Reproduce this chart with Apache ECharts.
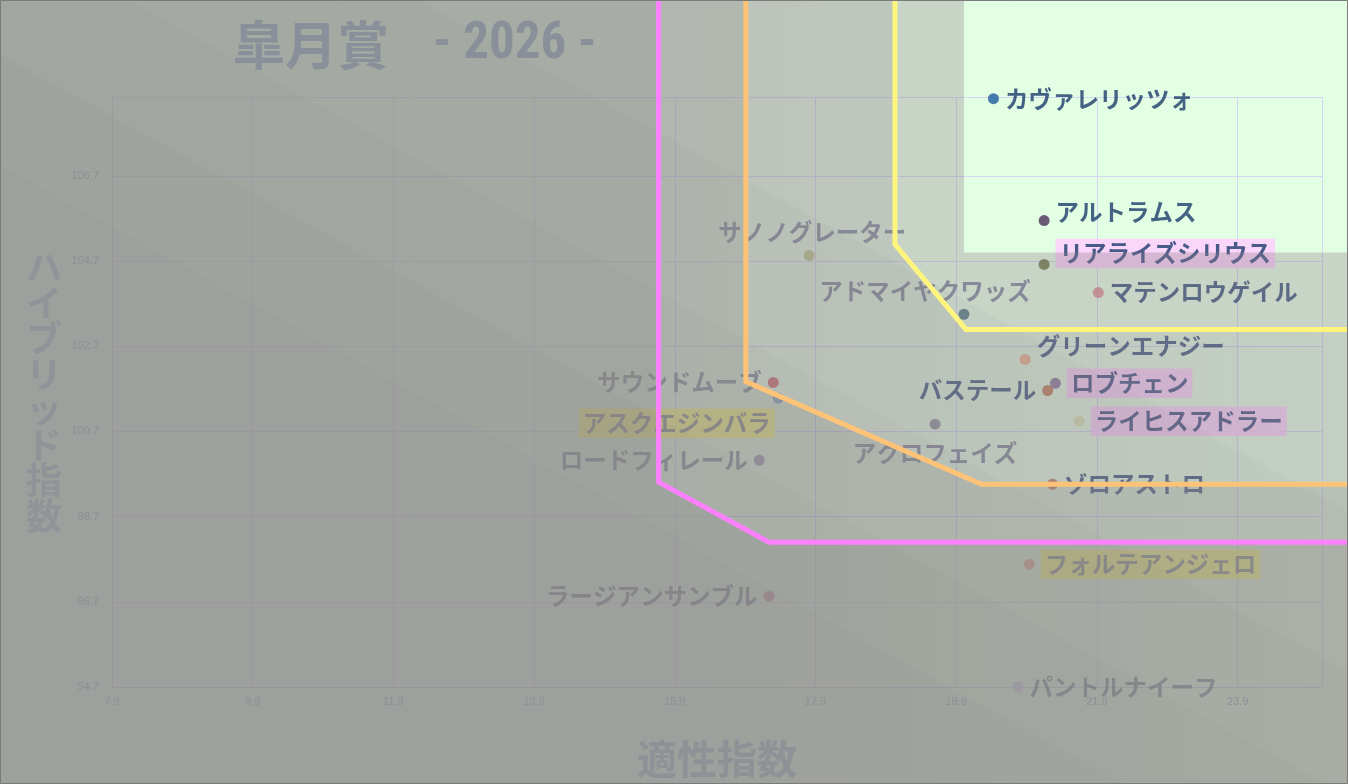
<!DOCTYPE html>
<html><head><meta charset="utf-8">
<script src="https://cdn.jsdelivr.net/npm/echarts@6/dist/echarts.min.js"></script>
<style>html,body{margin:0;padding:0;background:#fff}#c{width:1348px;height:784px}</style>
</head><body><div id="c"></div>
<script>
// ---- data ----
const titleMain = '皐月賞';
const titleYear = '- 2026 -';
const xAxisName = '適性指数';
const yAxisName = 'ハイブリッド指数';
const xTickValues = [7.9, 9.9, 11.9, 13.9, 15.9, 17.9, 19.9, 21.9, 23.9];
const yTickValues = [94.7, 96.7, 98.7, 100.7, 102.7, 104.7, 106.7];
const xMax = 25.1;
const yMax = 108.55;

const horseNames = ['カヴァレリッツォ','アルトラムス','リアライズシリウス','マテンロウゲイル','アドマイヤクワッズ','サノノグレーター','グリーンエナジー','ロブチェン','バステール','ライヒスアドラー','アクロフェイズ','ゾロアストロ','フォルテアンジェロ','パントルナイーフ','サウンドムーブ','アスクエジンバラ','ロードフィレール','ラージアンサンブル'];
const tekiseiIndex = [20.43, 21.15, 21.15, 21.92, 20.01, 17.81, 20.88, 21.31, 21.20, 21.65, 19.60, 21.27, 20.94, 20.78, 17.30, 17.37, 17.10, 17.24];
const hybridIndex  = [108.51, 105.65, 104.62, 103.96, 103.45, 104.83, 102.39, 101.83, 101.66, 100.94, 100.87, 99.46, 97.58, 94.70, 101.85, 101.48, 100.02, 96.83];

// zone boundary polylines [tekisei, hybrid]
const lineYellow = [[19.03, 111.5], [19.03, 105.09], [20.04, 103.09], [26.5, 103.09]];
const lineOrange = [[16.91, 111.5], [16.91, 101.87], [20.26, 99.46], [26.5, 99.46]];
const linePink   = [[15.67, 111.5], [15.67, 99.51], [17.24, 98.10], [26.5, 98.10]];
const topZone    = [[20.01, 111.5], [20.01, 104.9], [26.5, 104.9]];

// ---- styles ----
const NAVY = '#1b3b6a', GRAY = '#6a768c';
const pointColors = ['#1f5aa0','#4a2e5a','#56662c','#d88484','#3a6878','#b4c474','#f0a878','#7a6090','#b8683a','#d6e6a6','#7a8090','#b86444','#e89a7a','#c8c8ea','#c85454','#6a98c8','#8888a8','#c884a8'];
const labelCfg = {
  'カヴァレリッツォ': {pos:'right', c:NAVY},
  'アルトラムス': {pos:'right', c:NAVY, off:[0,-8]},
  'リアライズシリウス': {pos:'right', c:NAVY, off:[0,-11], bg:'#ffccff'},
  'マテンロウゲイル': {pos:'right', c:NAVY},
  'アドマイヤクワッズ': {pos:'top', c:GRAY, off:[-39,0]},
  'サノノグレーター': {pos:'top', c:GRAY, off:[3,0]},
  'グリーンエナジー': {pos:'right', c:NAVY, off:[0,-13]},
  'ロブチェン': {pos:'right', c:NAVY, bg:'#ffccff'},
  'バステール': {pos:'left', c:NAVY},
  'ライヒスアドラー': {pos:'right', c:NAVY, bg:'#ffccff'},
  'アクロフェイズ': {pos:'bottom', c:GRAY, off:[0,6]},
  'ゾロアストロ': {pos:'right', c:NAVY},
  'フォルテアンジェロ': {pos:'right', c:GRAY, bg:'#ffff66'},
  'パントルナイーフ': {pos:'right', c:GRAY},
  'サウンドムーブ': {pos:'left', c:GRAY},
  'アスクエジンバラ': {pos:'left', c:GRAY, off:[8,25], bg:'#ffff66'},
  'ロードフィレール': {pos:'left', c:GRAY},
  'ラージアンサンブル': {pos:'left', c:GRAY}
};

const FONT = '"Noto Sans CJK JP", "Noto Sans", sans-serif';
const W = 1348, H = 784;

const points = horseNames.map((n, i) => {
  const cfg = labelCfg[n];
  const lab = {
    show: true, formatter: '{b}', position: cfg.pos, distance: 6, color: cfg.c, fontSize: 23.5,
    fontWeight: 'bold', fontFamily: FONT, offset: cfg.off || [0, 0]
  };
  if (cfg.bg) { lab.backgroundColor = cfg.bg; lab.padding = [4, 4, 2, 4]; }
  return { name: n, value: [tekiseiIndex[i], hybridIndex[i]], itemStyle: { color: pointColors[i] }, label: lab };
});

const axisCommon = (ticks, max) => ({
  type: 'value', min: ticks[0], max: max, interval: +(ticks[1] - ticks[0]).toFixed(6)
});

const chart = echarts.init(document.getElementById('c'));
const option = {
  backgroundColor: '#e3ffe3',
  animation: false,
  title: {
    text: '{a|' + titleMain + '}{b|' + titleYear + '}', left: 228, top: 14, z: 20,
    textStyle: {
      rich: {
        a: { fontSize: 52, fontWeight: 'bold', color: '#8a9099', fontFamily: FONT, padding: [0, 44, 0, 0] },
        b: { fontSize: 51, fontWeight: 'bold', color: '#8a9099', fontFamily: '"Liberation Sans Narrow", "Roboto Condensed", "DejaVu Sans Condensed", sans-serif' }
      }
    }
  },
  grid: { left: 112, right: 26, top: 97, bottom: 96 },
  xAxis: [
    Object.assign(axisCommon(xTickValues, xMax), {
      position: 'bottom',
      axisLine: { show: true, lineStyle: { color: '#c8cce6' } },
      axisTick: { show: false }, axisLabel: { show: false },
      splitLine: { show: true, lineStyle: { color: '#d2d6f2', width: 1 } }
    }),
    Object.assign(axisCommon(xTickValues, xMax), {
      position: 'bottom', z: 20,
      axisLine: { show: false }, axisTick: { show: false }, splitLine: { show: false },
      axisLabel: { show: true, margin: 9, fontSize: 11, color: '#8c9098', fontFamily: '"Liberation Sans", sans-serif',
        showMaxLabel: false, formatter: v => v.toFixed(1) },
      name: xAxisName, nameLocation: 'middle', nameGap: 52,
      nameTextStyle: { fontSize: 40, fontWeight: 'bold', color: '#8f9196', fontFamily: FONT }
    })
  ],
  yAxis: [
    Object.assign(axisCommon(yTickValues, yMax), {
      position: 'left',
      axisLine: { show: true, lineStyle: { color: '#c8cce6' } },
      axisTick: { show: false }, axisLabel: { show: false },
      splitLine: { show: true, lineStyle: { color: '#d2d6f2', width: 1 } }
    }),
    Object.assign(axisCommon(yTickValues, yMax), {
      position: 'left', z: 20,
      axisLine: { show: false }, axisTick: { show: false }, splitLine: { show: false },
      axisLabel: { show: true, margin: 13, fontSize: 11, color: '#8c8f96', fontFamily: '"Liberation Sans", sans-serif',
        showMaxLabel: false, formatter: v => v.toFixed(1) },
      name: yAxisName.split('').join('\n'), nameLocation: 'middle', nameGap: 50, nameRotate: 0,
      nameTextStyle: { fontSize: 36, lineHeight: 35.5, fontWeight: 'bold', color: '#919399', fontFamily: FONT }
    })
  ],
  series: [
    { type: 'scatter', xAxisIndex: 0, yAxisIndex: 0, symbolSize: 11, z: 2, data: points }
  ]
};
chart.setOption(option);

// linear map through the axes (extrapolated beyond the plotted range)
const xa = [xTickValues[0], xMax].map(v => chart.convertToPixel({ xAxisIndex: 0 }, v));
const ya = [yTickValues[0], yMax].map(v => chart.convertToPixel({ yAxisIndex: 0 }, v));
function toPx(p) {
  return [
    xa[0] + (p[0] - xTickValues[0]) * (xa[1] - xa[0]) / (xMax - xTickValues[0]),
    ya[0] + (p[1] - yTickValues[0]) * (ya[1] - ya[0]) / (yMax - yTickValues[0])
  ];
}
function outsidePoly(line) {
  const pts = line.map(toPx);
  const poly = [[-60, -60], [pts[0][0], -60]].concat(pts);
  const last = pts[pts.length - 1];
  poly.push([W + 60, last[1]], [W + 60, H + 60], [-60, H + 60]);
  return poly;
}
function hgrad(c0, c1, x0) {
  return new echarts.graphic.LinearGradient(x0, 0, W, 0, [{ offset: 0, color: c0 }, { offset: 1, color: c1 }], true);
}
const graphics = [];
const layers = [
  [topZone,    'rgba(143,125,140,0.33)'],
  [lineYellow, hgrad('rgba(143,128,140,0.20)', 'rgba(143,128,140,0.05)', 700)],
  [lineOrange, 'rgba(140,140,135,0.22)'],
  [linePink,   'rgba(138,140,135,0.25)']
];
layers.forEach(([ln, f]) => graphics.push({ type: 'polygon', silent: true, z: 5, shape: { points: outsidePoly(ln) }, style: { fill: f } }));
// soft diagonal shading bands, darker towards the lower left
[165, 55, -70, -230].forEach(b => {
  graphics.push({ type: 'polygon', silent: true, z: 6,
    shape: { points: [[-60, b - 33], [W + 60, b + 0.55 * (W + 60)], [W + 60, H + 60], [-60, H + 60]] },
    style: { fill: 'rgba(118,118,116,0.045)' } });
});
[[linePink, '#ff80ff'], [lineOrange, '#ffc378'], [lineYellow, '#fff57d']].forEach(([ln, col]) => {
  graphics.push({ type: 'polyline', silent: true, z: 10, shape: { points: ln.map(toPx) },
    style: { stroke: col, lineWidth: 5, fill: null, lineJoin: 'miter' } });
});
graphics.push({ type: 'rect', silent: true, z: 30, shape: { x: 0.5, y: 0.5, width: W - 1, height: H - 1 },
  style: { fill: null, stroke: '#7a7a7a', lineWidth: 1 } });
chart.setOption({ graphic: graphics });
</script></body></html>
